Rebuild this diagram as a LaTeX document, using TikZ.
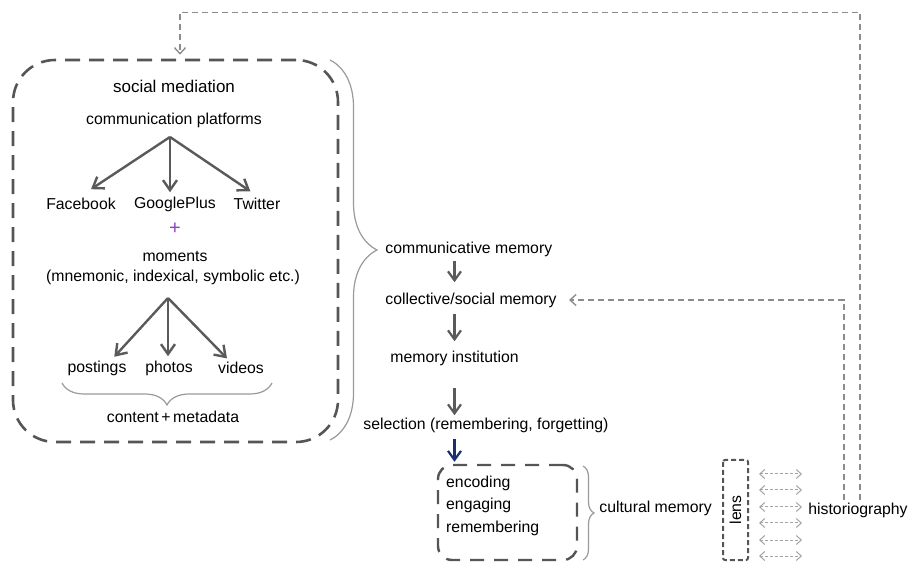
\documentclass[tikz,border=0pt]{standalone}
\usepackage{fontspec}
\setmainfont{Liberation Sans}
\usetikzlibrary{calc,arrows.meta,decorations.pathreplacing}
\definecolor{arrowgrey}{HTML}{5a5a5a}
\definecolor{framegrey}{HTML}{555555}
\definecolor{bracegrey}{HTML}{9a9a9a}
\definecolor{loopgrey}{HTML}{8c8c8c}
\definecolor{selblue}{HTML}{1b2f6e}
\definecolor{plusviolet}{HTML}{8e44c4}
\tikzstyle{lbl}=[inner sep=1pt, font=\fontsize{7.9}{9.5}\selectfont]
\tikzstyle{fan}=[draw=arrowgrey, line width=1.2pt, -{Straight Barb[length=5pt, width=7pt]}]
\tikzstyle{flow}=[draw=arrowgrey, line width=1.1pt, -{Straight Barb[length=4.5pt, width=6.5pt]}]
\tikzstyle{frame}=[draw=framegrey, line width=1.3pt, dash pattern=on 7.5pt off 4.5pt]
\tikzstyle{curly}=[draw=bracegrey, line width=0.6pt, decorate]
\tikzstyle{loopback}=[draw=loopgrey, line width=0.7pt, dash pattern=on 3pt off 2pt, -{Straight Barb[length=3pt, width=5.5pt]}]
\tikzstyle{lensarrow}=[draw=loopgrey!80, line width=0.5pt, dash pattern=on 1.5pt off 1pt, {Straight Barb[length=2.5pt, width=4.5pt]}-{Straight Barb[length=2.5pt, width=4.5pt]}]

\begin{document}
\begin{tikzpicture}[x=0.5pt, y=-0.5pt]

\useasboundingbox (0, 0) rectangle (914, 565);

% social mediation frame
\node [frame, rounded corners=21pt, minimum width=162.5pt, minimum height=191pt] (bigbox) at (175.5, 251) {};

\node [lbl, font=\fontsize{8.5}{10}\selectfont] (social) at (174, 86) {social mediation};
\node [lbl] (platforms) at (174, 120) {communication platforms};

\node [lbl] (fb) at ( 81, 204) {Facebook};
\node [lbl] (gp) at (175, 204) {GooglePlus};
\node [lbl] (tw) at (257, 204) {Twitter};

\node [lbl, text=plusviolet, font=\fontsize{10}{11}\selectfont] (plus) at (175, 229) {+};
\node [lbl] (moments) at (175, 256) {moments};
\node [lbl] (kinds)   at (173, 277) {(mnemonic, indexical, symbolic etc.)};

\node [lbl] (post)  at ( 97, 368) {postings};
\node [lbl] (photo) at (169, 368) {photos};
\node [lbl] (video) at (241, 368) {videos};
\node [lbl] (meta)  at (173, 417) {content\,+\,metadata};

\coordinate (fanA) at (170, 137);
\coordinate (fanB) at (168, 298);

\draw [fan, shorten >=6pt] (fanA) -- (fb.north);
\draw [fan, shorten >=1pt] (fanA) -- (fanA |- gp.north);
\draw [fan, shorten >=4pt] (fanA) -- (tw.north);

\draw [fan, shorten >=1pt] (fanB) -- ($(post.north)!0.5!(post.north east)$);
\draw [fan, shorten >=1pt] (fanB) -- (fanB |- photo.north);
\draw [fan, shorten >=1pt] (fanB) -- ($(video.north)!0.5!(video.north west)$);

\draw [curly, decoration={brace, amplitude=11pt}] (272, 383) -- (62, 383);
\draw [curly, decoration={brace, amplitude=23.5pt}] (330, 60) -- (330, 440);

% memory chain
\node [lbl, anchor=west] (comm) at (383, 249) {communicative memory};
\node [lbl, anchor=west] (coll) at (383, 300) {collective/social memory};
\node [lbl, anchor=west] (ins)  at (388, 358) {memory institution};
\node [lbl, anchor=west] (sel)  at (361, 425) {selection (remembering, forgetting)};

\draw [flow, shorten <=1pt, shorten >=4pt]   (comm.south -| ins.south) -- (coll.north -| ins.south);
\draw [flow, shorten <=2pt, shorten >=3.5pt] (coll.south -| ins.south) -- (ins.south |- ins.north);
\draw [flow, shorten <=10pt]                 (ins.south) -- (ins.south |- sel.north);

% cultural memory frame
\node [frame, rounded corners=7pt, dash pattern=on 7pt off 5pt, line width=1.2pt, minimum width=69.5pt, minimum height=47.5pt] (cbox) at (507.5, 512.5) {};
\node [lbl, align=left, anchor=west, font=\fontsize{7.9}{11.25}\selectfont] (stages) at ($(cbox.west)+(7,-7)$) {encoding\\engaging\\remembering};

\draw [flow, draw=selblue, shorten <=2pt, shorten >=1pt] (sel.south -| ins.south) -- (cbox.north -| ins.south);

\draw [curly, decoration={brace, amplitude=5.5pt}] (583, 466) -- (583, 560);
\node [lbl, anchor=west] (cult) at (597, 508) {cultural memory};

% rotated lens: its south anchor faces right
\node [draw=framegrey, line width=1pt, dash pattern=on 2.5pt off 1.5pt, rounded corners=1pt, rotate=90, minimum width=50pt, minimum height=12.5pt, inner sep=0pt, font=\fontsize{7.9}{9.5}\selectfont] (lens) at (735.5, 510) {lens};

\node [lbl, anchor=west] (hist) at (806, 510) {historiography};

\foreach \d in {-36, -20, -3, 13, 30, 46}
  \draw [lensarrow] ($(lens.south)+(10, \d)$) -- ($(hist.west)+(-4, \d)$);

% feedback from historiography
\draw [loopback, shorten >=2pt] ([xshift=1pt]hist.north) -- ++(0, -488) -| ([xshift=2.25pt]bigbox.north);
\draw [loopback, shorten >=5pt] ([xshift=-7pt]hist.north) |- (coll.east);

\end{tikzpicture}
\end{document}
